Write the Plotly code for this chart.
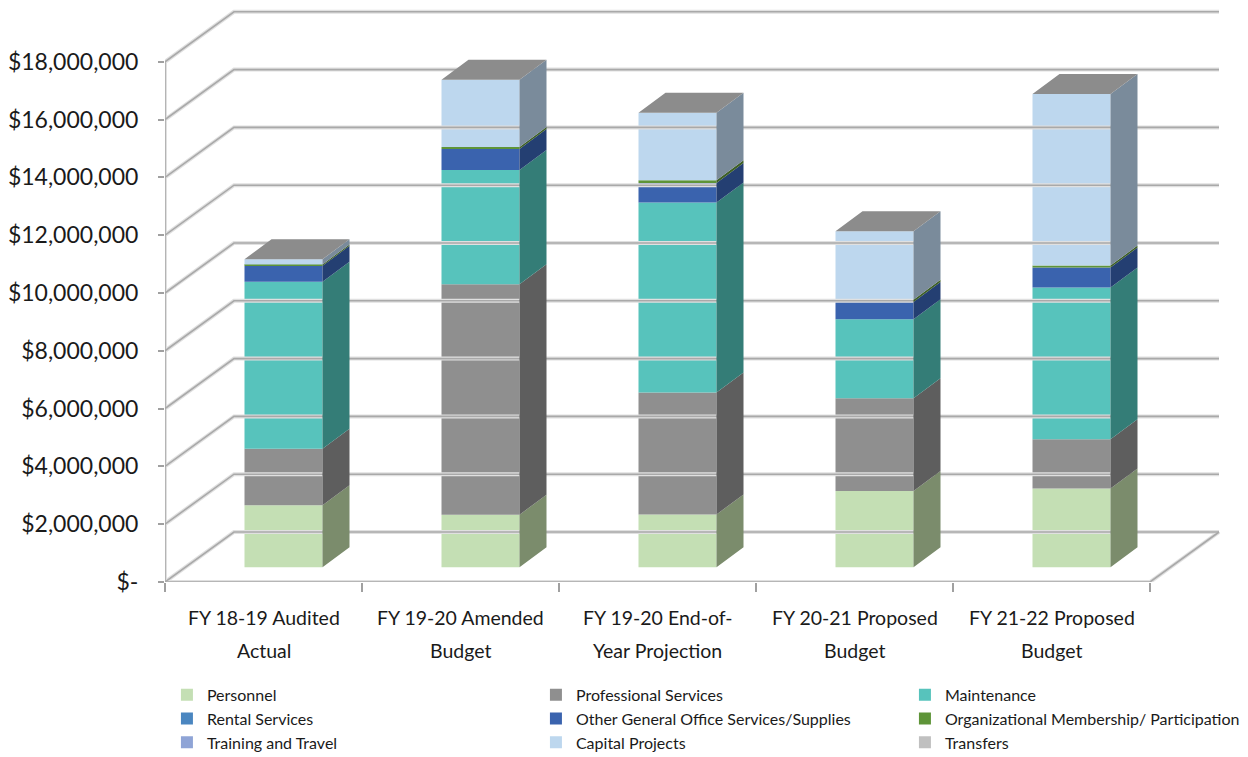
import numpy as np
import plotly.graph_objects as go

# ---------------------------------------------------------------------------
# Data
# ---------------------------------------------------------------------------
label_line1 = ["FY 18-19 Audited", "FY 19-20 Amended", "FY 19-20 End-of-",
               "FY 20-21 Proposed", "FY 21-22 Proposed"]
label_line2 = ["Actual", "Budget", "Year Projection", "Budget", "Budget"]

personnel = [2150000, 1820000, 1830000, 2640000, 2730000]
professional_services = [1950000, 7970000, 4220000, 3210000, 1700000]
maintenance = [5780000, 3960000, 6570000, 2730000, 5250000]
rental_services = [0, 0, 0, 0, 0]
other_general_office = [550000, 720000, 680000, 600000, 690000]
organizational_membership = [50000, 70000, 90000, 80000, 70000]
training_and_travel = [0, 0, 0, 0, 0]
capital_projects = [180000, 2330000, 2340000, 2370000, 5940000]
transfers = [0, 0, 0, 0, 0]

tick_values = [0, 2000000, 4000000, 6000000, 8000000, 10000000,
               12000000, 14000000, 16000000, 18000000]
tick_labels = ["$-", "$2,000,000", "$4,000,000", "$6,000,000", "$8,000,000",
               "$10,000,000", "$12,000,000", "$14,000,000", "$16,000,000",
               "$18,000,000"]

# name, values, front colour, side colour
series = [
    ("Personnel", personnel, "#c4dfb4", "#7b8c6c"),
    ("Professional Services", professional_services, "#8f8f8f", "#5e5e5e"),
    ("Maintenance", maintenance, "#57c3bc", "#347d77"),
    ("Rental Services", rental_services, "#4a86c0", "#2c557c"),
    ("Other General Office Services/Supplies", other_general_office, "#3a63ae", "#243f72"),
    ("Organizational Membership/ Participation", organizational_membership, "#5e9438", "#3d5f25"),
    ("Training and Travel", training_and_travel, "#8fa4d6", "#5c6a8c"),
    ("Capital Projects", capital_projects, "#bdd7ee", "#7a8b9b"),
    ("Transfers", transfers, "#c0c0c0", "#7f7f7f"),
]

# ---------------------------------------------------------------------------
# Oblique projection geometry (in axis units)
# ---------------------------------------------------------------------------
PX_PER_CAT = 197.0          # pixels per category on the x axis
PX_PER_DOLLAR = 28.9 / 1e6  # pixels per dollar on the y axis

X0, X1 = -0.5, len(label_line1) - 0.5
WALL_DX = 69 / PX_PER_CAT            # depth of the back wall
WALL_DY = 50 / PX_PER_DOLLAR
BAR_SHIFT_X = 20 / PX_PER_CAT        # bar plane sits a little behind the front
BAR_BASE = 14.7 / PX_PER_DOLLAR
BAR_W = 78 / PX_PER_CAT
BAR_DX = 27 / PX_PER_CAT             # bar depth
BAR_DY = 20 / PX_PER_DOLLAR

PLOT_L, PLOT_R, PLOT_T, PLOT_B = 165, 20, 5, 175
W, H = 1248, 757
x_range = [X0, X0 + (W - PLOT_L - PLOT_R) / PX_PER_CAT]
y_range = [0, (H - PLOT_T - PLOT_B) / PX_PER_DOLLAR]

fig = go.Figure()


def seg_trace(xs, ys, color, width):
    return go.Scatter(x=xs, y=ys, mode="lines", line=dict(color=color, width=width),
                      hoverinfo="skip", showlegend=False)


# walls and floor
wx, wy = [], []
for v in tick_values:
    # left wall diagonal + back wall horizontal
    wx += [X0, X0 + WALL_DX, X1 + WALL_DX, None]
    wy += [v, v + WALL_DY, v + WALL_DY, None]
wx += [X1, X1 + WALL_DX, None, X0, X1, None, X0, X0, None]
wy += [0, WALL_DY, None, 0, 0, None, 0, tick_values[-1], None]
fig.add_trace(seg_trace(wx, wy, "#e0e0e0", 4))
fig.add_trace(seg_trace(wx, wy, "#a9a9a9", 1.6))

# bar geometry
centers = np.arange(len(label_line1)) + BAR_SHIFT_X
left = centers - BAR_W / 2
right = centers + BAR_W / 2
cum = np.zeros(len(centers)) + BAR_BASE

side_traces = []
bar_traces = []
for name, vals, front, side in series:
    vals = np.asarray(vals, dtype=float)
    bottoms = cum.copy()
    tops = cum + vals
    bar_traces.append(go.Bar(
        x=centers, y=vals, base=bottoms, width=BAR_W, name=name,
        marker=dict(color=front, line=dict(width=0)), hoverinfo="skip"))
    sx, sy = [], []
    for i in range(len(centers)):
        if vals[i] <= 0:
            continue
        sx += [right[i], right[i] + BAR_DX, right[i] + BAR_DX, right[i], right[i], None]
        sy += [bottoms[i], bottoms[i] + BAR_DY, tops[i] + BAR_DY, tops[i], bottoms[i], None]
    if sx:
        side_traces.append(go.Scatter(x=sx, y=sy, mode="lines", fill="toself",
                                      fillcolor=side, line=dict(width=0, color=side),
                                      hoverinfo="skip", showlegend=False))
    cum = tops

# top faces
tx, ty = [], []
for i in range(len(centers)):
    t = cum[i]
    tx += [left[i], left[i] + BAR_DX, right[i] + BAR_DX, right[i], left[i], None]
    ty += [t, t + BAR_DY, t + BAR_DY, t, t, None]
side_traces.append(go.Scatter(x=tx, y=ty, mode="lines", fill="toself",
                              fillcolor="#8c8c8c", line=dict(width=0, color="#8c8c8c"),
                              hoverinfo="skip", showlegend=False))

for tr in side_traces:
    fig.add_trace(tr)
for tr in bar_traces:
    fig.add_trace(tr)

# category labels (two lines each)
FONT = "Lato"
for i in range(len(label_line1)):
    fig.add_annotation(x=i, y=0, xref="x", yref="y", text=label_line1[i], showarrow=False,
                       yanchor="middle", yshift=-35, font=dict(family=FONT, size=19.5, color="#1a1a1a"))
    fig.add_annotation(x=i, y=0, xref="x", yref="y", text=label_line2[i], showarrow=False,
                       yanchor="middle", yshift=-68, font=dict(family=FONT, size=19.5, color="#1a1a1a"))

fig.update_layout(
    width=W, height=H,
    margin=dict(l=PLOT_L, r=PLOT_R, t=PLOT_T, b=PLOT_B, autoexpand=False),
    paper_bgcolor="white", plot_bgcolor="white",
    barmode="overlay",
    font=dict(family=FONT, color="#1a1a1a"),
    xaxis=dict(range=x_range, showgrid=False, zeroline=False, showline=False,
               tickmode="array", tickvals=list(np.arange(X0, X1 + 0.01, 1.0)),
               showticklabels=False, ticks="outside", ticklen=9, tickcolor="#a0a0a0",
               tickwidth=1.5),
    yaxis=dict(range=y_range, showgrid=False, zeroline=False, showline=False,
               tickmode="array", tickvals=tick_values, ticktext=tick_labels,
               ticks="outside", ticklen=6, tickcolor="#a0a0a0", tickwidth=1.5,
               ticklabelstandoff=15, tickfont=dict(family=FONT, size=23, color="#1a1a1a")),
    legend=dict(orientation="h", x=-0.001, xanchor="left", y=-0.166, yanchor="top",
                entrywidth=321, traceorder="normal", indentation=3,
                font=dict(family=FONT, size=16, color="#1a1a1a"),
                bgcolor="rgba(0,0,0,0)", itemclick=False, itemdoubleclick=False),
    showlegend=True,
)

fig.write_html("out.html")
